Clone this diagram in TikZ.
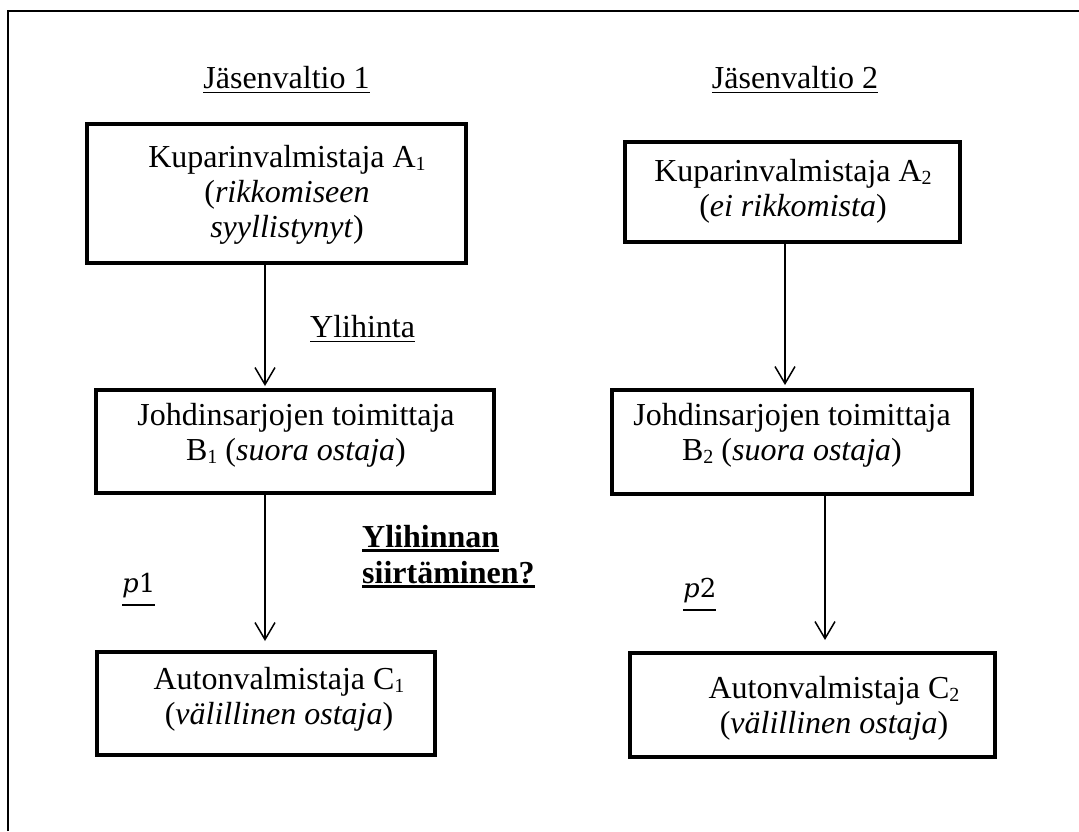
\documentclass[tikz,border=0pt]{standalone}
\usepackage{fontspec}
\setmainfont{Liberation Serif}
\newfontfamily\pfont{DejaVu Serif}
\usetikzlibrary{arrows.meta}

% underline at a given drop below the baseline with a given rule thickness
\newsavebox\ulsave
\newcommand\ulbox[3]{\sbox\ulsave{#3}\rlap{\rule[-#1]{\wd\ulsave}{#2}}\usebox\ulsave}
% small lowered index digit
\newcommand\idx[1]{\raisebox{-3pt}{\fontsize{20}{20}\selectfont #1}}

\begin{document}
\begin{tikzpicture}[x=1pt, y=-1pt,
  font=\fontsize{32}{35}\selectfont,
  box/.style={draw, line width=4pt, inner sep=0pt},
  % multi-line texts are placed by the baseline of their last line
  lbl/.style={anchor=base, align=center, inner sep=0pt},
  lbll/.style={anchor=base west, align=left, inner sep=0pt},
  arr/.style={line width=1.5pt, -{Straight Barb[length=17pt, width=20pt]}}]

\fill[white] (0,0) rectangle (1079,831);
\useasboundingbox (0,0) rectangle (1079,831);

% page frame (top and left edges)
\draw[line width=2.2pt] (8,831) -- (8,11) -- (1079,11);

% column headings
\node[lbl] (h1) at (286.5,88) {\ulbox{5.3pt}{1.6pt}{Jäsenvaltio 1}};
\node[lbl] (h2) at (795,88) {\ulbox{5.3pt}{1.6pt}{Jäsenvaltio 2}};

% boxes
\node[box, minimum width=379pt, minimum height=139pt] (a1) at (276.5,193.5) {};
\node[box, minimum width=335pt, minimum height=100pt] (a2) at (792.5,192) {};
\node[box, minimum width=398pt, minimum height=103pt] (b1) at (295,441.5) {};
\node[box, minimum width=360pt, minimum height=104pt] (b2) at (792,442) {};
\node[box, minimum width=338pt, minimum height=103pt] (c1) at (266,703.5) {};
\node[box, minimum width=365pt, minimum height=104pt] (c2) at (812.5,705) {};

% box texts
\node[lbl] (ta1) at (287,237) {Kuparinvalmistaja A\idx{1}\\(\textit{rikkomiseen}\\\textit{syyllistynyt})};
\node[lbl] (ta2) at (793,216) {Kuparinvalmistaja A\idx{2}\\(\textit{ei rikkomista})};
\node[lbl] (tb1) at (296,460) {Johdinsarjojen toimittaja\\B\idx{1} (\textit{suora ostaja})};
\node[lbl] (tb2) at (792,460) {Johdinsarjojen toimittaja\\B\idx{2} (\textit{suora ostaja})};
\node[lbl] (tc1) at (279,724) {Autonvalmistaja C\idx{1}\\(\textit{välillinen ostaja})};
\node[lbl] (tc2) at (834,733) {Autonvalmistaja C\idx{2}\\(\textit{välillinen ostaja})};

% side labels
\node[lbll] (ylh) at (310,337) {\ulbox{5.3pt}{1.6pt}{Ylihinta}};
\node[lbll, font=\fontsize{32}{36}\selectfont\bfseries] (sii) at (362,583)
  {\ulbox{5pt}{3pt}{Ylihinnan}\\\ulbox{5pt}{3pt}{siirtäminen?}};
\node[lbll, font=\fontsize{26}{30}\pfont] (p1) at (122,592) {\ulbox{14pt}{2pt}{\textit{p}1}};
\node[lbll, font=\fontsize{26}{30}\pfont] (p2) at (683,597) {\ulbox{14pt}{2pt}{\textit{p}2}};

% flow arrows
\coordinate (xl) at (265,0);
\coordinate (xr1) at (785,0);
\coordinate (xr2) at (825,0);
\draw[arr, shorten >=2pt] (a1.south -| xl) -- (b1.north -| xl);
\draw[arr, shorten >=9pt] (b1.south -| xl) -- (c1.north -| xl);
\draw[arr, shorten >=3pt] (a2.south -| xr1) -- (b2.north -| xr1);
\draw[arr, shorten >=11pt] (b2.south -| xr2) -- (c2.north -| xr2);

\end{tikzpicture}
\end{document}
